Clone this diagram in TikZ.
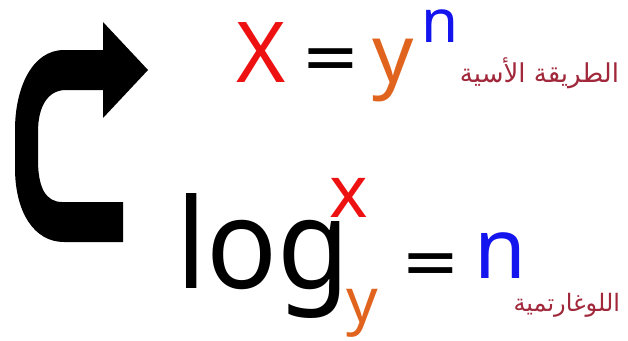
\documentclass[tikz,border=0pt]{standalone}
\usepackage{fontspec}
\setmainfont{Noto Sans}
\newfontfamily\arabicfont[Script=Arabic]{DejaVu Sans}
\newfontfamily\eqfont{DejaVu Sans}
\TeXXeTstate=1
\definecolor{cRed}{HTML}{EE1111}
\definecolor{cOrange}{HTML}{E0641E}
\definecolor{cBlue}{HTML}{1414EE}
\definecolor{cArab}{HTML}{A0283A}
\tikzset{
  txt/.style={inner sep=0pt, outer sep=0pt, anchor=base west},
  fs/.style={font=\fontsize{#1}{#1}\selectfont},
  eqs/.style={inner sep=0pt, outer sep=0pt, anchor=base west, font=\fontsize{#1}{#1}\selectfont\eqfont},
  arab/.style={inner sep=0pt, outer sep=0pt, anchor=base east, text=cArab, font=\fontsize{#1}{#1}\selectfont\arabicfont}
}
\begin{document}
\begin{tikzpicture}[x=1pt,y=-1pt]
\useasboundingbox (0,0) rectangle (628,340);
% curved arrow
\fill[black] (123,202) -- (62,202) .. controls (46,202) and (38,188) .. (38,160) -- (38,132) .. controls (38,106) and (48,90) .. (66,90) -- (103,90) -- (103,118) -- (148,70) -- (103,22) -- (103,50) -- (64,50) .. controls (32,50) and (15,88) .. (15,130) -- (15,168) .. controls (15,212) and (34,242) .. (64,242) -- (123,242) -- cycle;
% upper equation
\node[txt, fs=84, text=cRed] (X) at (236,82) {X};
\node[eqs=70] (eq1) at (301,80) {=};
\node[txt, fs=81, text=cOrange] (y1) at (372,82) {y};
\node[txt, fs=60, text=cBlue] (n1) at (421,42) {n};
\node[arab=26] (a1) at (619,82) {\beginR الطريقة الأسية\endR};
% lower equation
\node[txt, fs=125] (log) at (176,288) {\scalebox{0.94}[1]{log}};
\node[txt, fs=73, text=cRed] (x2) at (329,217) {x};
\node[txt, fs=62, text=cOrange] (y2) at (346,322) {y};
\node[eqs=70] (eq2) at (401,285) {=};
\node[txt, fs=84, text=cBlue] (n2) at (474,278) {n};
\node[arab=24] (a2) at (620,311) {\beginR اللوغارتمية\endR};
\end{tikzpicture}
\end{document}
